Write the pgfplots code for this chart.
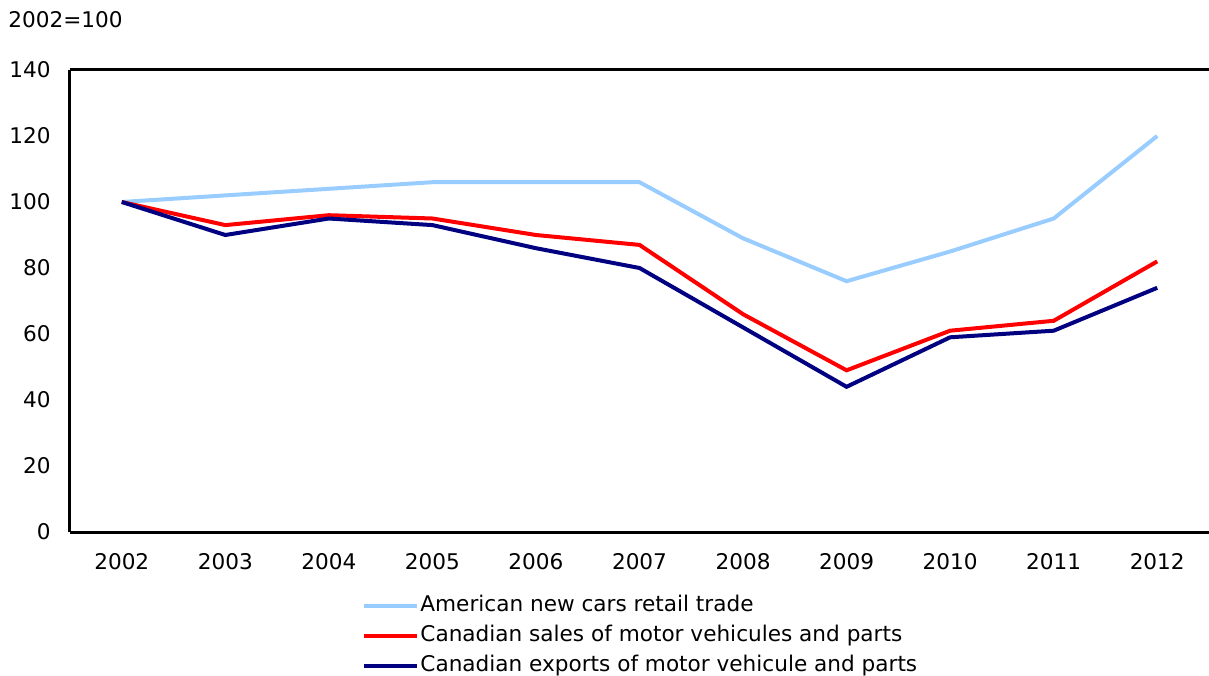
\documentclass[border=0pt]{standalone}
\usepackage{pgfplots}
\pgfplotsset{compat=1.18}
\usepackage{fontspec}
\setmainfont{DejaVu Sans}
\definecolor{lblue}{RGB}{153,204,255}
\definecolor{navy}{RGB}{0,0,128}
\definecolor{myred}{RGB}{255,0,0}
\begin{document}
\begin{tikzpicture}
\begin{axis}[
  name=ax,
  scale only axis,
  width=569.5pt, height=231pt,
  xmin=-0.5, xmax=10.5,
  ymin=0, ymax=140,
  xtick={0,...,10},
  xticklabels={2002,2003,2004,2005,2006,2007,2008,2009,2010,2011,2012},
  ytick={0,20,...,140},
  axis x line=box,
  axis y line=left,
  axis line style={line width=1.5pt,-},
  major tick length=0pt,
  tick style={draw=none},
  every tick label/.append style={font=\fontsize{10.8pt}{12pt}\selectfont},
  /pgf/number format/assume math mode=true,
  yticklabel style={inner sep=0pt, anchor=east, xshift=-9.5pt},
  xticklabel style={inner sep=0pt, anchor=north, yshift=-10.5pt},
  clip=false,
  legend style={at={(axis description cs:0.2564,-0.1375)}, anchor=north west,
    draw=none, fill=none, inner sep=0pt, row sep=4.3pt, column sep=0pt,
    font=\fontsize{10.8pt}{12pt}\selectfont,
    nodes={inner sep=0pt, text height=8pt, text depth=2.5pt},
    cells={anchor=west}},
  legend image code/.code={\draw[#1, line width=2pt] (0pt,0pt) -- (26.5pt,0pt);},
  legend cell align=left,
]
\addplot[lblue, line width=2pt] coordinates {(0,100) (1,102) (2,104) (3,106) (4,106) (5,106) (6,89) (7,76) (8,85) (9,95) (10,120)};
\addlegendentry{\hspace{0.5pt}American new cars retail trade}
\addplot[myred, line width=2pt] coordinates {(0,100) (1,93) (2,96) (3,95) (4,90) (5,87) (6,66) (7,49) (8,61) (9,64) (10,82)};
\addlegendentry{\hspace{0.5pt}Canadian sales of motor vehicules and parts}
\addplot[navy, line width=2pt] coordinates {(0,100) (1,90) (2,95) (3,93) (4,86) (5,80) (6,62) (7,44) (8,59) (9,61) (10,74)};
\addlegendentry{\hspace{0.5pt}Canadian exports of motor vehicule and parts}
\node[anchor=north west, inner sep=0pt, font=\fontsize{10.8pt}{12pt}\selectfont] at ([shift={(-31pt,29.5pt)}]rel axis cs:0,1) {2002=100};
\end{axis}
\pgfresetboundingbox
\useasboundingbox ([shift={(-35pt,-71.5pt)}]ax.south west) rectangle ([shift={(0pt,35pt)}]ax.north east);
\end{tikzpicture}
\end{document}
